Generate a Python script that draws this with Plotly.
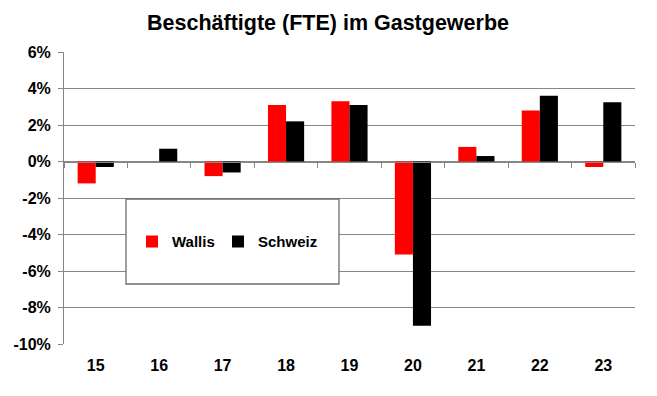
import plotly.graph_objects as go

years = ["15", "16", "17", "18", "19", "20", "21", "22", "23"]
wallis = [-1.2, 0.0, -0.8, 3.1, 3.3, -5.1, 0.8, 2.8, -0.3]
schweiz = [-0.3, 0.7, -0.6, 2.2, 3.1, -9.0, 0.3, 3.6, 3.25]
y_ticks = [-10, -8, -6, -4, -2, 0, 2, 4, 6]
y_ticklabels = ["-10%", "-8%", "-6%", "-4%", "-2%", "0%", "2%", "4%", "6%"]

FONT = "Arial, Liberation Sans, sans-serif"
GRID = "#868686"

fig = go.Figure()
fig.add_trace(go.Bar(x=years, y=wallis, name="Wallis", legend="legend",
                     marker=dict(color="#FF0000", line_width=0)))
fig.add_trace(go.Bar(x=years, y=schweiz, name="Schweiz", legend="legend2",
                     marker=dict(color="#000000", line_width=0)))

# invisible helper trace to carry the boundary tick axis at y=0
fig.add_trace(go.Scatter(x=[-0.5, 8.5], y=[0, 0], xaxis="x2", mode="lines",
                         line=dict(width=0), showlegend=False, hoverinfo="skip"))

legend_font = dict(family=FONT, size=15, color="black", weight="bold")

fig.update_layout(
    width=649, height=388,
    margin=dict(l=56, r=22, t=44, b=52),
    paper_bgcolor="white", plot_bgcolor="white",
    title=dict(text="<b>Beschäftigte (FTE) im Gastgewerbe</b>", x=320 / 649, xanchor="center",
               y=1 - 14 / 388, yanchor="middle", font=dict(family=FONT, size=21.5, color="black")),
    barmode="group", bargap=0.43, bargroupgap=0,
    font=dict(family=FONT, size=14, color="black"),
    xaxis=dict(type="category", showgrid=False, zeroline=False, showline=False, ticks="",
               tickfont=dict(family=FONT, size=16, color="black", weight="bold"),
               range=[-0.5, 8.5], ticklabelstandoff=10, automargin=False),
    xaxis2=dict(overlaying="x", anchor="free", position=10/16, range=[-0.5, 8.5],
                tickvals=[i - 0.5 for i in range(10)], showticklabels=False,
                ticks="outside", ticklen=5, tickcolor=GRID, showline=True, linecolor=GRID,
                linewidth=1, showgrid=False, zeroline=False, automargin=False),
    yaxis=dict(range=[-10, 6], tickvals=y_ticks, ticktext=y_ticklabels,
               showgrid=True, gridcolor=GRID, gridwidth=1, zeroline=False,
               showline=True, linecolor=GRID, linewidth=1, ticks="outside", ticklen=5,
               tickcolor=GRID, ticklabelstandoff=4, automargin=False,
               tickfont=dict(family=FONT, size=16, color="black", weight="bold")),
    legend=dict(orientation="h", x=0.1191, xanchor="left", y=0.350, yanchor="middle",
                bgcolor="rgba(0,0,0,0)", borderwidth=0, font=legend_font),
    legend2=dict(orientation="h", x=0.2697, xanchor="left", y=0.350, yanchor="middle",
                 bgcolor="rgba(0,0,0,0)", borderwidth=0, font=legend_font),
    shapes=[dict(type="rect", xref="paper", yref="paper", x0=0.1086, x1=0.4816,
                 y0=0.2055, y1=0.4966, fillcolor="white", line=dict(color="#6e6e6e", width=1.3),
                 layer="above")],
)

fig.write_html("out.html")
